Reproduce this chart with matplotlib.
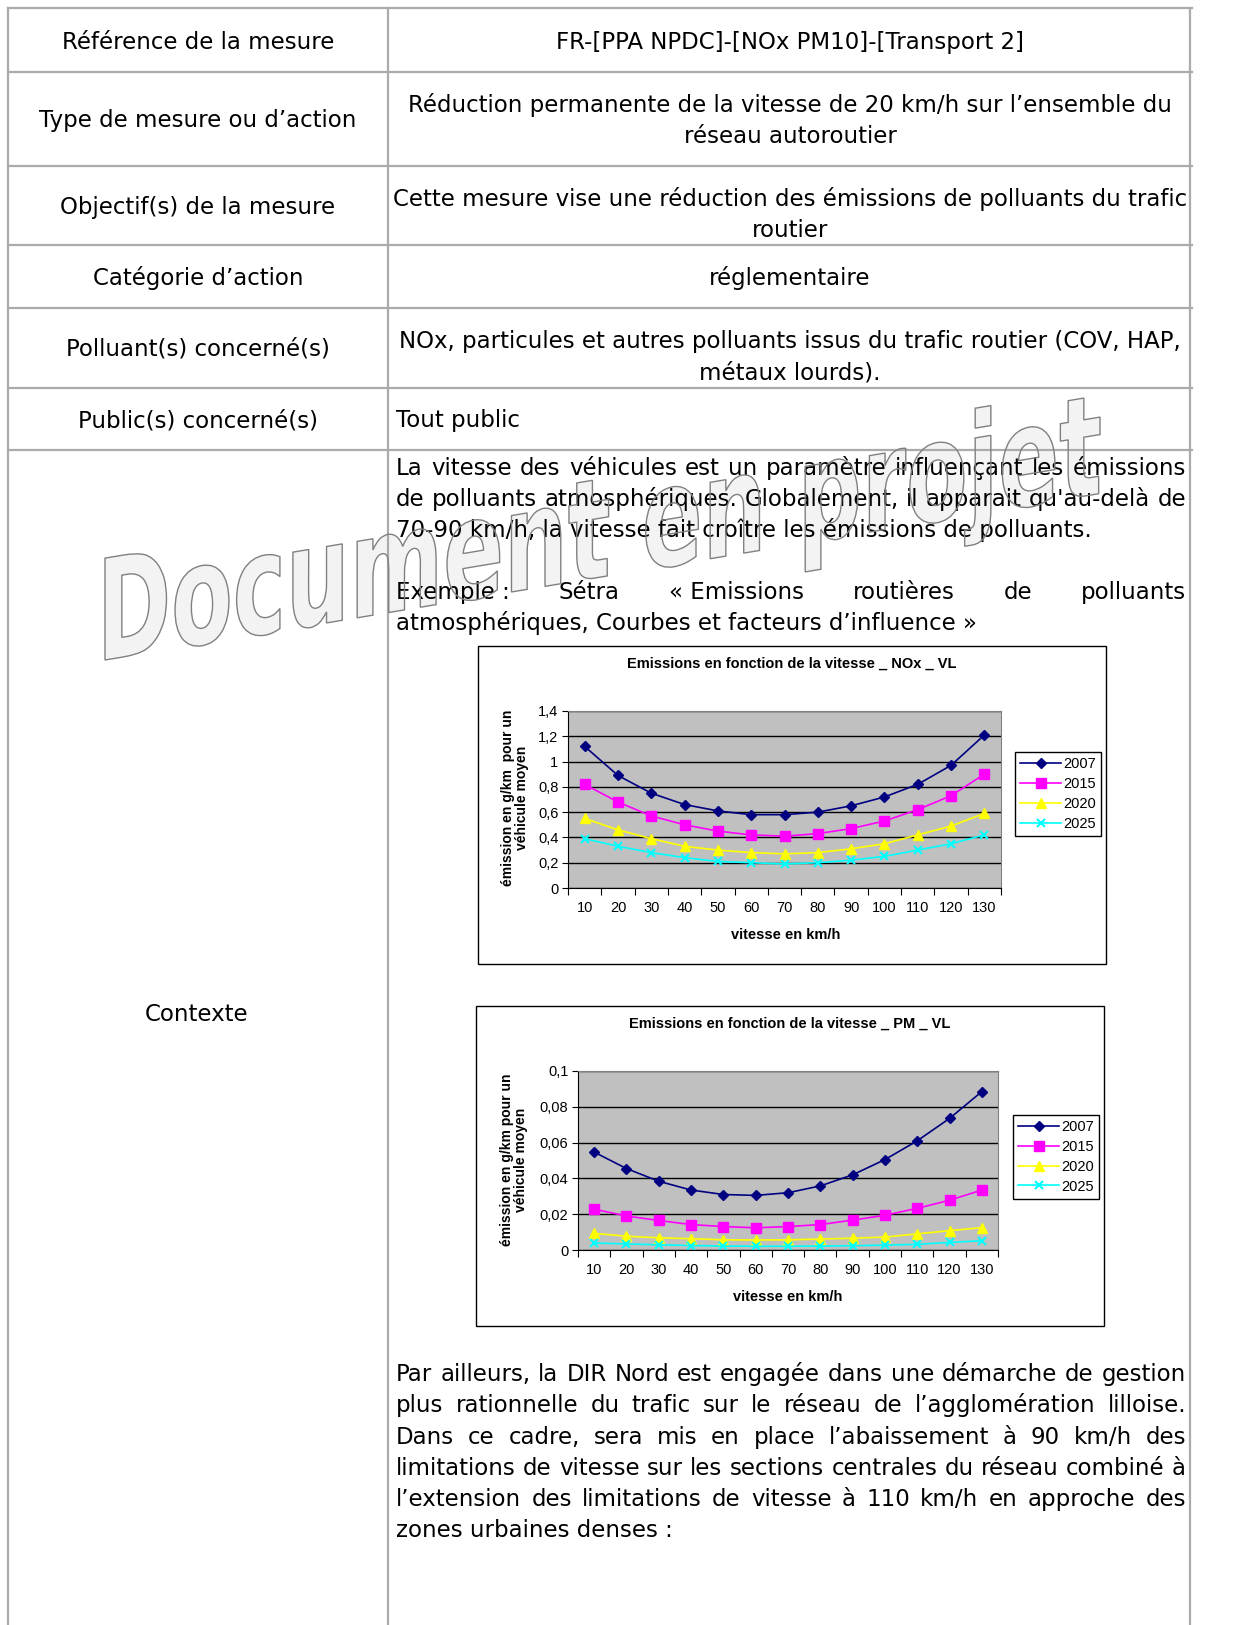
import numpy as np
import matplotlib.pyplot as plt
from matplotlib.patches import Rectangle, PathPatch
from matplotlib.textpath import TextPath
from matplotlib.font_manager import FontProperties
from matplotlib.transforms import Affine2D

W, H = 1234, 1625

# data
vitesse = [10, 20, 30, 40, 50, 60, 70, 80, 90, 100, 110, 120, 130]
annees = ['2007', '2015', '2020', '2025']

nox_2007 = [1.12, 0.89, 0.75, 0.66, 0.61, 0.58, 0.58, 0.60, 0.65, 0.72, 0.82, 0.97, 1.21]
nox_2015 = [0.82, 0.68, 0.57, 0.50, 0.45, 0.42, 0.41, 0.43, 0.47, 0.53, 0.62, 0.73, 0.90]
nox_2020 = [0.55, 0.46, 0.39, 0.33, 0.30, 0.28, 0.27, 0.28, 0.31, 0.35, 0.42, 0.49, 0.59]
nox_2025 = [0.39, 0.33, 0.28, 0.24, 0.21, 0.20, 0.19, 0.20, 0.22, 0.25, 0.30, 0.35, 0.42]

pm_2007 = [0.0547, 0.0455, 0.0384, 0.0335, 0.0310, 0.0305, 0.0320, 0.0358, 0.0420, 0.0505, 0.0610, 0.0735, 0.0885]
pm_2015 = [0.0228, 0.0190, 0.0165, 0.0142, 0.0131, 0.0124, 0.0131, 0.0142, 0.0167, 0.0194, 0.0233, 0.0278, 0.0335]
pm_2020 = [0.0093, 0.0077, 0.0068, 0.0063, 0.0057, 0.0056, 0.0057, 0.0061, 0.0066, 0.0072, 0.0090, 0.0108, 0.0125]
pm_2025 = [0.0039, 0.0034, 0.0029, 0.0025, 0.0022, 0.0021, 0.0021, 0.0022, 0.0024, 0.0027, 0.0032, 0.0042, 0.0052]

nox_ticks = [0, 0.2, 0.4, 0.6, 0.8, 1.0, 1.2, 1.4]
nox_tick_labels = ['0', '0,2', '0,4', '0,6', '0,8', '1', '1,2', '1,4']
pm_ticks = [0, 0.02, 0.04, 0.06, 0.08, 0.1]
pm_tick_labels = ['0', '0,02', '0,04', '0,06', '0,08', '0,1']

# table rows: (left label, right lines)
rows = [
    ("Référence de la mesure", ["FR-[PPA NPDC]-[NOx PM10]-[Transport 2]"]),
    ("Type de mesure ou d’action", ["Réduction permanente de la vitesse de 20 km/h sur l’ensemble du",
                                    "réseau autoroutier"]),
    ("Objectif(s) de la mesure", ["Cette mesure vise une réduction des émissions de polluants du trafic",
                                  "routier"]),
    ("Catégorie d’action", ["réglementaire"]),
    ("Polluant(s) concerné(s)", ["NOx, particules et autres polluants issus du trafic routier (COV, HAP,",
                                 "métaux lourds)."]),
]
row_label_y = [41, 119, 206, 277, 348]
row_text_y = [[41], [104, 135], [198, 229], [277], [340, 371]]

para1 = ["La vitesse des véhicules est un paramètre influençant les émissions",
         "de polluants atmosphériques. Globalement, il apparait qu'au-delà de",
         "70-90 km/h, la vitesse fait croître les émissions de polluants."]
para2 = ["Exemple\u00a0: Sétra «\u00a0Emissions routières de polluants",
         "atmosphériques, Courbes et facteurs d’influence\u00a0»"]
para3 = ["Par ailleurs, la DIR Nord est engagée dans une démarche de gestion",
         "plus rationnelle du trafic sur le réseau de l’agglomération lilloise.",
         "Dans ce cadre, sera mis en place l’abaissement à 90 km/h des",
         "limitations de vitesse sur les sections centrales du réseau combiné à",
         "l’extension des limitations de vitesse à 110 km/h en approche des",
         "zones urbaines denses :"]

fig = plt.figure(figsize=(W / 100, H / 100), dpi=100)
bg = fig.add_axes([0, 0, 1, 1])
bg.set_xlim(0, W)
bg.set_ylim(H, 0)
bg.axis('off')

DOC = 'DejaVu Sans'
FS = 16.5


def doc_text(x, y, s, ha='left'):
    return bg.text(x, y + 8, s, ha=ha, va='baseline', fontsize=FS,
                   family=DOC, color='black', zorder=3)


def justify(y, line, x0=396, x1=1186):
    words = [w for w in line.split(' ') if w]
    arts = [doc_text(x0, y, w) for w in words]
    r = fig.canvas.get_renderer()
    widths = [a.get_window_extent(r).width for a in arts]
    gap = (x1 - x0 - sum(widths)) / (len(words) - 1)
    x = x0
    for a, w in zip(arts, widths):
        a.set_x(x)
        x += w + gap


def paragraph(lines, ys):
    for i, (s, y) in enumerate(zip(lines, ys)):
        if i < len(lines) - 1:
            justify(y, s)
        else:
            doc_text(396, y, s)


# table grid
grid_col = '#ababab'
for y in [8, 72, 166, 245, 308, 388, 450]:
    bg.plot([8, 1192], [y, y], color=grid_col, lw=1.6, zorder=2)
for x in [8, 388, 1190]:
    bg.plot([x, x], [8, H], color=grid_col, lw=1.6, zorder=2)

for (lab, lines), ly, tys in zip(rows, row_label_y, row_text_y):
    doc_text(198, ly, lab, ha='center')
    for s, ty in zip(lines, tys):
        doc_text(790, ty, s, ha='center')

doc_text(198, 419, "Public(s) concerné(s)", ha='center')
doc_text(396, 419, "Tout public")
doc_text(197, 1013, "Contexte", ha='center')

paragraph(para1, [467, 498, 529])
paragraph(para2, [591, 622])
paragraph(para3, [1373, 1404, 1436, 1467, 1498, 1529])

# watermark "Document en projet"
fp = FontProperties(family='DejaVu Sans', weight='bold')
tp = TextPath((0, 0), 'Document en projet', size=1, prop=fp)
ext = tp.get_extents()
sx = 995 / ext.width
sy = 102 / 0.73
t = np.tan(np.radians(9.5))
M = np.array([[sx, 0, 105 - sx * ext.x0],
              [-t * sx, -sy, 660 + t * sx * ext.x0],
              [0, 0, 1]])
wm = Affine2D(M).transform_path(tp)
bg.add_patch(PathPatch(wm, facecolor='#f3f3f3', edgecolor='none', zorder=1))
bg.add_patch(PathPatch(wm, facecolor='none', edgecolor='#808080', lw=1.0, zorder=5))

# charts
styles = [('#000080', 'D', 5.5), ('#ff00ff', 's', 7), ('#ffff00', '^', 7), ('#00ffff', 'x', 6)]
CF = 'Liberation Sans'


def chart(frame, area, title, title_xy, ylab, ylab_xy, xlab_xy, series, ticks, tick_labels, ymax, leg_xy):
    fx0, fy0, fx1, fy1 = frame
    bg.add_patch(Rectangle((fx0, fy0), fx1 - fx0, fy1 - fy0, facecolor='white',
                           edgecolor='black', lw=1.0, zorder=2))
    x0, y0, x1, y1 = area
    ax = fig.add_axes([x0 / W, 1 - y1 / H, (x1 - x0) / W, (y1 - y0) / H])
    ax.set_facecolor('#c0c0c0')
    xs = np.arange(len(vitesse))
    for vals, name, (col, mk, ms) in zip(series, annees, styles):
        ax.plot(xs, vals, color=col, marker=mk, ms=ms, mfc=col, mec=col,
                mew=1.5 if mk == 'x' else 1, lw=1.2, label=name)
    ax.set_xlim(-0.5, len(vitesse) - 0.5)
    ax.set_ylim(0, ymax)
    ax.set_yticks(ticks)
    ax.set_yticklabels(tick_labels, fontsize=10.5, family=CF)
    ax.yaxis.grid(True, color='black', lw=1)
    ax.set_axisbelow(True)
    ax.set_xticks(np.arange(-0.5, len(vitesse), 1))
    ax.set_xticklabels([])
    ax.set_xticks(xs, minor=True)
    ax.set_xticklabels([str(v) for v in vitesse], minor=True, fontsize=10.5, family=CF)
    ax.tick_params(axis='x', which='minor', length=0, pad=9)
    ax.tick_params(axis='x', which='major', length=5, direction='out')
    ax.tick_params(axis='y', length=4, direction='out', pad=3)
    for sp in ['top', 'right']:
        ax.spines[sp].set_color('#808080')
    for sp in ['left', 'bottom']:
        ax.spines[sp].set_color('black')
    bg.text(title_xy[0], title_xy[1], title, ha='center', va='center', fontsize=10.5,
            fontweight='bold', family=CF, zorder=3)
    bg.text(ylab_xy[0], ylab_xy[1], ylab, ha='center', va='center', rotation=90,
            multialignment='center', fontsize=10, fontweight='bold', family=CF,
            linespacing=1.05, zorder=3)
    bg.text(xlab_xy[0], xlab_xy[1], 'vitesse en km/h', ha='center', va='center',
            fontsize=10.5, fontweight='bold', family=CF, zorder=3)
    leg = ax.legend(loc='upper left', bbox_to_anchor=(leg_xy[0] / W, 1 - leg_xy[1] / H),
                    bbox_transform=fig.transFigure, borderaxespad=0, fancybox=False,
                    edgecolor='black', framealpha=1, prop={'family': CF, 'size': 10.5},
                    handlelength=2.8, handletextpad=0.15, borderpad=0.35, labelspacing=0.4)
    leg.get_frame().set_linewidth(1.0)
    return ax


chart((478, 646, 1106, 964), (568, 711, 1001, 888),
      'Emissions en fonction de la vitesse _ NOx _ VL', (792, 664),
      'émission en g/km  pour un\nvéhicule moyen', (515, 798), (786, 935),
      [nox_2007, nox_2015, nox_2020, nox_2025], nox_ticks, nox_tick_labels, 1.4, (1015, 752))

chart((476, 1006, 1104, 1326), (578, 1071, 998, 1250),
      'Emissions en fonction de la vitesse _ PM _ VL', (790, 1024),
      'émission en g/km pour un\nvéhicule moyen', (514, 1160), (788, 1297),
      [pm_2007, pm_2015, pm_2020, pm_2025], pm_ticks, pm_tick_labels, 0.1, (1013, 1115))

fig.savefig('out.png', dpi=100)
